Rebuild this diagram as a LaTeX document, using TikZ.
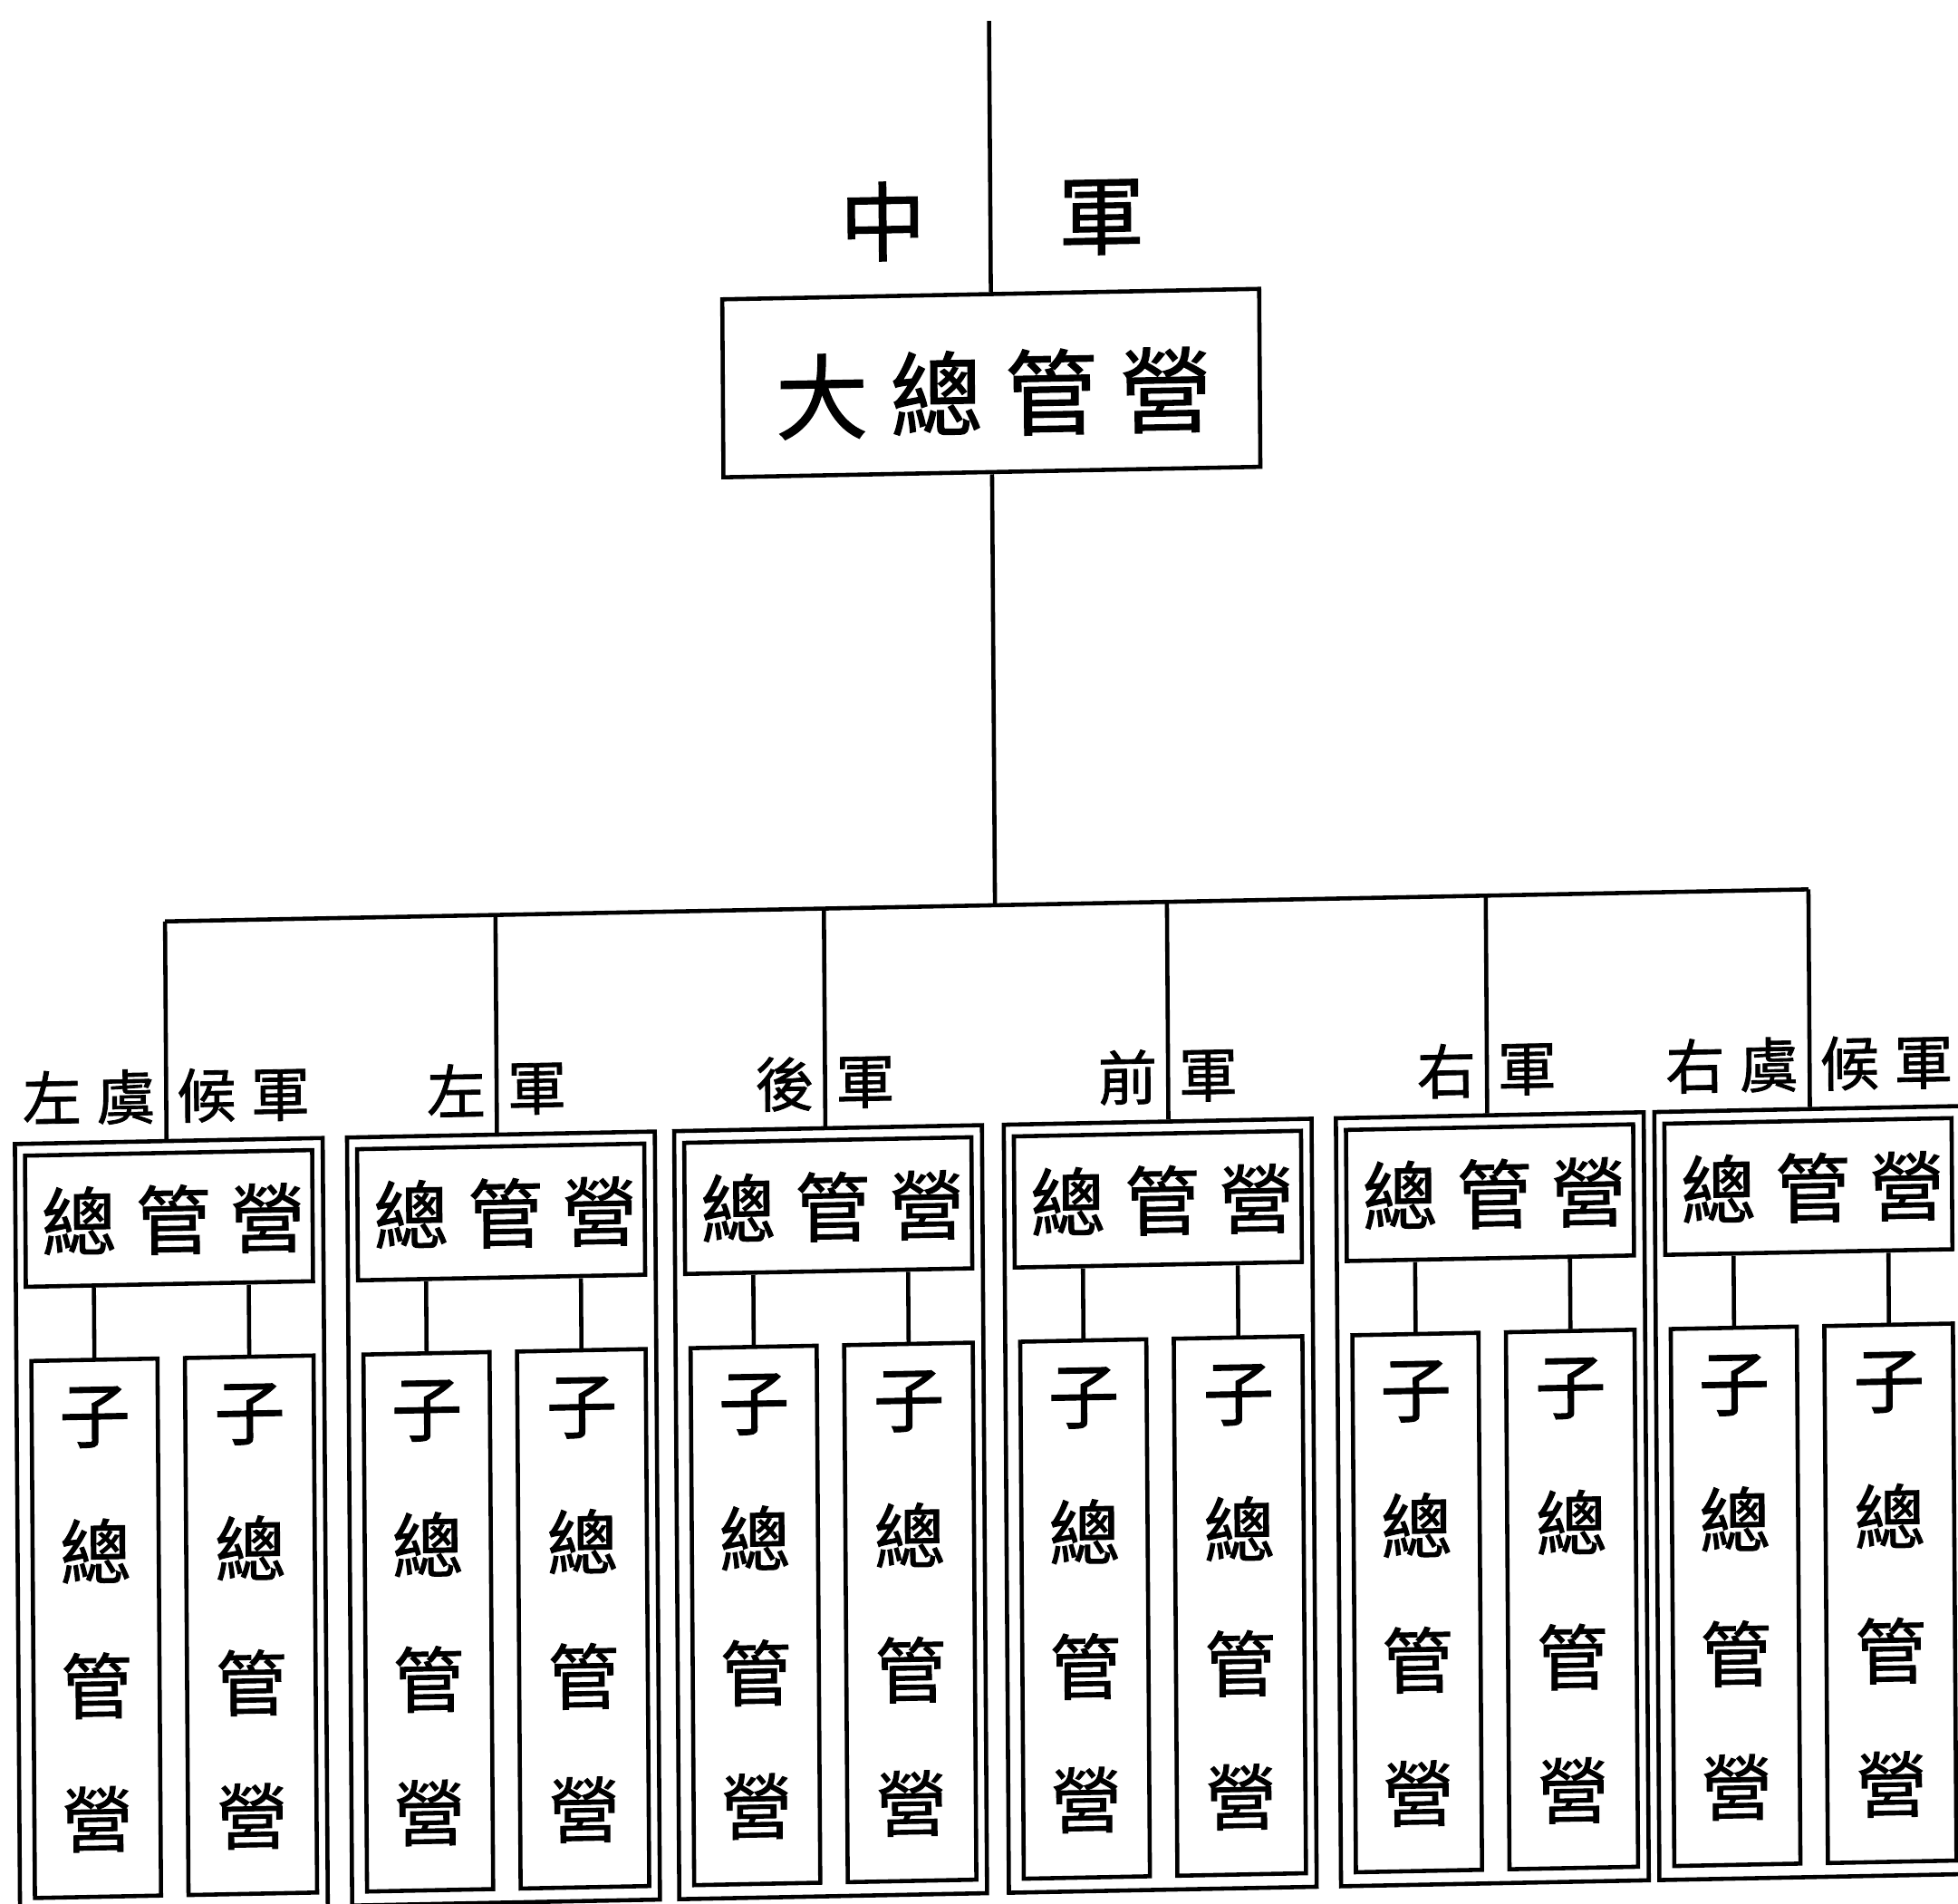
\documentclass[tikz,border=0pt]{standalone}
\usepackage{fontspec}
\newfontfamily\cjk{Noto Sans CJK TC}[FakeBold=1.3]
\newcommand\unitsz{0.01378cm}
\begin{document}
\begin{tikzpicture}[x=0.01378cm, y=-0.01378cm, line width=1.3pt,
  anybox/.style={draw, rectangle, inner sep=0pt, line width=1.3pt},
  mainbox/.style={anybox, minimum width=430*\unitsz, minimum height=142.5*\unitsz},
  outerbox/.style={anybox, minimum width=246.5*\unitsz, minimum height=615*\unitsz},
  hdrbox/.style={anybox, minimum width=230*\unitsz, minimum height=105*\unitsz},
  subbox/.style={anybox, minimum height=430*\unitsz},
  maintxt/.style={inner sep=0pt, font={\cjk\fontsize{29pt}{34pt}\selectfont}},
  toptxt/.style={inner sep=0pt, font={\cjk\fontsize{27pt}{32pt}\selectfont}},
  hdrtxt/.style={inner sep=0pt, font={\cjk\fontsize{23.5pt}{28pt}\selectfont}},
  subtxt/.style={inner sep=0pt, font={\cjk\fontsize{22.3pt}{26pt}\selectfont}},
  lbl/.style={inner sep=0pt, font={\cjk\fontsize{18.5pt}{22pt}\selectfont}}
]
\useasboundingbox (0,0) rectangle (1568.2,1524);
\begin{scope}[cm={1,0.0195,-0.0067,1,(-5.105,15.29)}, every node/.append style={transform shape}]
  % top part
  \node[mainbox] (main) at (797,307) {};
  \node[maintxt] (maintext) at (799,315) {大\hspace{7pt}總\hspace{7pt}管\hspace{7pt}營};
  \coordinate (top) at (797,17);
  \draw (top) -- (main.north);
  \node[toptxt] (zhong) at (711,176) {中};
  \node[toptxt] (zjun) at (886,176) {軍};
  \coordinate (barC) at (797,725);
  \draw (main.south) -- (barC);
  % groups
  \foreach \i/\L/\D/\lt/\rt in {
      1/11/132.4/{左\hspace{4.7pt}虞}/{候\hspace{4.7pt}軍},
      2/277/397/{左}/{軍},
      3/539/660/{後}/{軍},
      4/803/934.7/{前}/{軍},
      5/1069/1190/{右}/{軍},
      6/1324/1448.4/{右\hspace{4.7pt}虞}/{候\hspace{4.7pt}軍}}{
    \node[outerbox] (o\i) at (\L+123.25,1208.5) {};
    \node[hdrbox] (h\i) at (\L+123,963) {};
    \node[hdrtxt] (ht\i) at (\L+126.5,964) {總\hspace{6.1pt}管\hspace{6.1pt}營};
    \node[subbox, minimum width=101*\unitsz] (sa\i) at (\L+62.5,1290) {};
    \node[subbox, minimum width=103*\unitsz] (sb\i) at (\L+186.5,1290) {};
    \draw (h\i.south -| sa\i.north) -- (sa\i.north);
    \draw (h\i.south -| sb\i.north) -- (sb\i.north);
    \foreach \c/\y/\k in {子/1121/1,總/1228/2,管/1336/3,營/1443/4}{
      \node[subtxt] (sa\i c\k) at (\L+62.5,\y) {\c};
      \node[subtxt] (sb\i c\k) at (\L+186.5,\y) {\c};
    }
    \coordinate (d\i) at (\D,725);
    \draw (d\i) -- (d\i |- o\i.north);
    \node[lbl, anchor=east] (ll\i) at (\D-7,865) {\lt};
    \node[lbl, anchor=west] (lr\i) at (\D+7,865) {\rt};
  }
  \draw (d1) -- (d6);
\end{scope}
\end{tikzpicture}
\end{document}
